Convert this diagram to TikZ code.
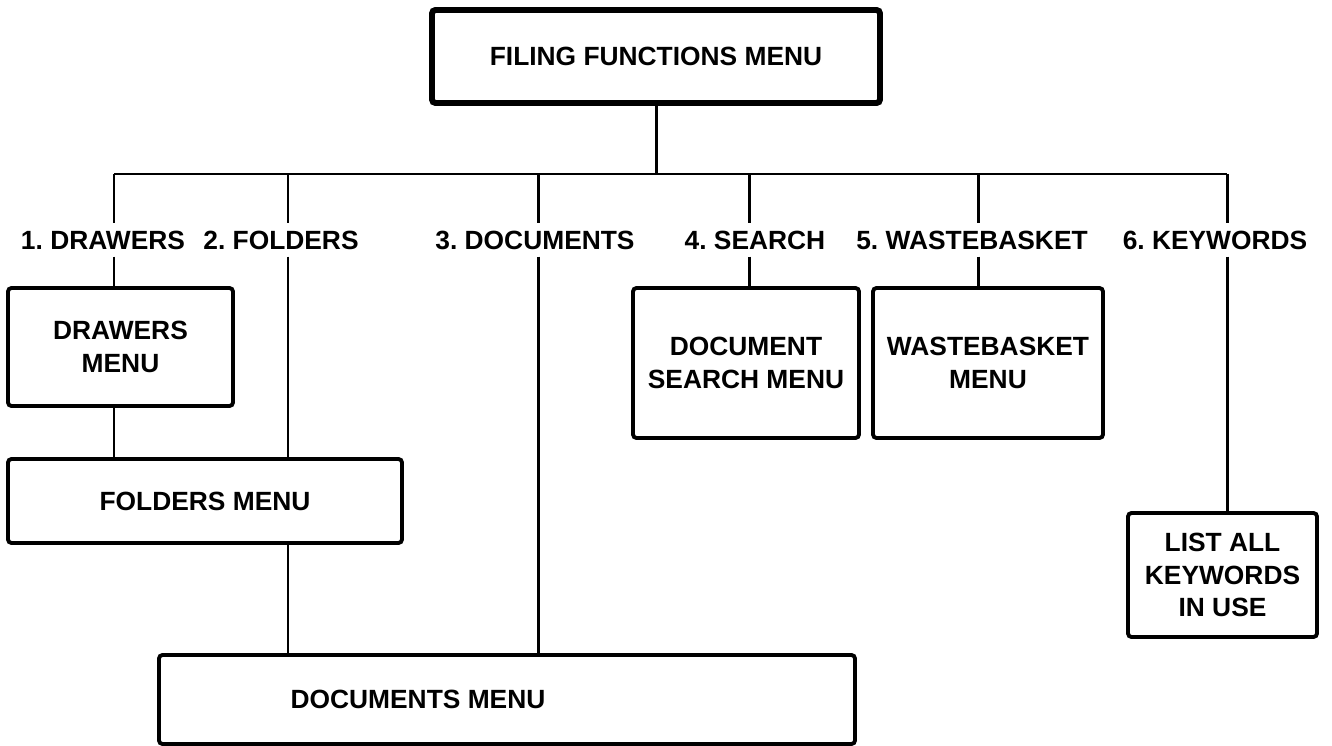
\documentclass[tikz,border=0pt]{standalone}
\usepackage{fontspec}
\setmainfont{Liberation Sans}
\frenchspacing
\begin{document}
\begin{tikzpicture}[x=0.02cm, y=-0.02cm,
  menubox/.style={draw, line width=2.2pt, rounded corners=2pt, align=center, font=\menufont},
  optlabel/.style={inner sep=4pt, font=\menufont},
  link/.style={line width=1.7pt, line join=round}]
% One pixel of the page
\def\px{0.02cm}
\def\menufont{\fontsize{15}{18.7}\selectfont\bfseries}
\useasboundingbox (0,0) rectangle (1332,746);

% Top menu
\node[menubox, line width=3.4pt, minimum width=448*\px, minimum height=93*\px] (filing) at (656,56.5) {FILING FUNCTIONS MENU};

% Points where the options leave the bus
\coordinate (bus1) at (114,174);
\coordinate (bus2) at (288,174);
\coordinate (bus3) at (538,174);
\coordinate (bus4) at (749,174);
\coordinate (bus5) at (978,174);
\coordinate (bus6) at (1227,174);

% Option labels
\node[optlabel] (opt1) at (103,240) {1. DRAWERS};
\node[optlabel] (opt2) at (281,240) {2. FOLDERS};
\node[optlabel] (opt3) at (535,240) {3. DOCUMENTS};
\node[optlabel] (opt4) at (755,240) {4. SEARCH};
\node[optlabel] (opt5) at (972,240) {5. WASTEBASKET};
\node[optlabel] (opt6) at (1215,240) {6. KEYWORDS};

% Sub menus
\node[menubox, minimum width=225*\px, minimum height=118*\px] (drawers) at (120.5,347) {DRAWERS\\MENU};
\node[menubox, minimum width=394*\px, minimum height=84*\px] (folders) at (205,501) {FOLDERS MENU};
\node[menubox, minimum width=696*\px, minimum height=89*\px] (docs) at (507,699.5) {};
\node[font=\menufont] (docstext) at (418,699.5) {DOCUMENTS MENU};
\node[menubox, minimum width=226*\px, minimum height=150*\px] (search) at (746,363) {DOCUMENT\\SEARCH MENU};
\node[menubox, minimum width=230*\px, minimum height=150*\px] (waste) at (988,363) {WASTEBASKET\\MENU};
\node[menubox, minimum width=189*\px, minimum height=124*\px] (keys) at (1222.5,575) {LIST ALL\\KEYWORDS\\IN USE};

% Connectors
\draw[link] (filing.south) -- (filing.south |- bus1);
\draw[link] (bus1) -- (bus6);
\draw[link] (bus1) -- (bus1 |- opt1.north);
\draw[link] (bus2) -- (bus2 |- opt2.north);
\draw[link] (bus3) -- (bus3 |- opt3.north);
\draw[link] (bus4) -- (bus4 |- opt4.north);
\draw[link] (bus5) -- (bus5 |- opt5.north);
\draw[link] (bus6) -- (bus6 |- opt6.north);
\draw[link] (bus1 |- opt1.south) -- (bus1 |- drawers.north);
\draw[link] (bus1 |- drawers.south) -- (bus1 |- folders.north);
\draw[link] (bus2 |- opt2.south) -- (bus2 |- folders.north);
\draw[link] (bus2 |- folders.south) -- (bus2 |- docs.north);
\draw[link] (bus3 |- opt3.south) -- (bus3 |- docs.north);
\draw[link] (bus4 |- opt4.south) -- (bus4 |- search.north);
\draw[link] (bus5 |- opt5.south) -- (bus5 |- waste.north);
\draw[link] (bus6 |- opt6.south) -- (bus6 |- keys.north);
\end{tikzpicture}
\end{document}
